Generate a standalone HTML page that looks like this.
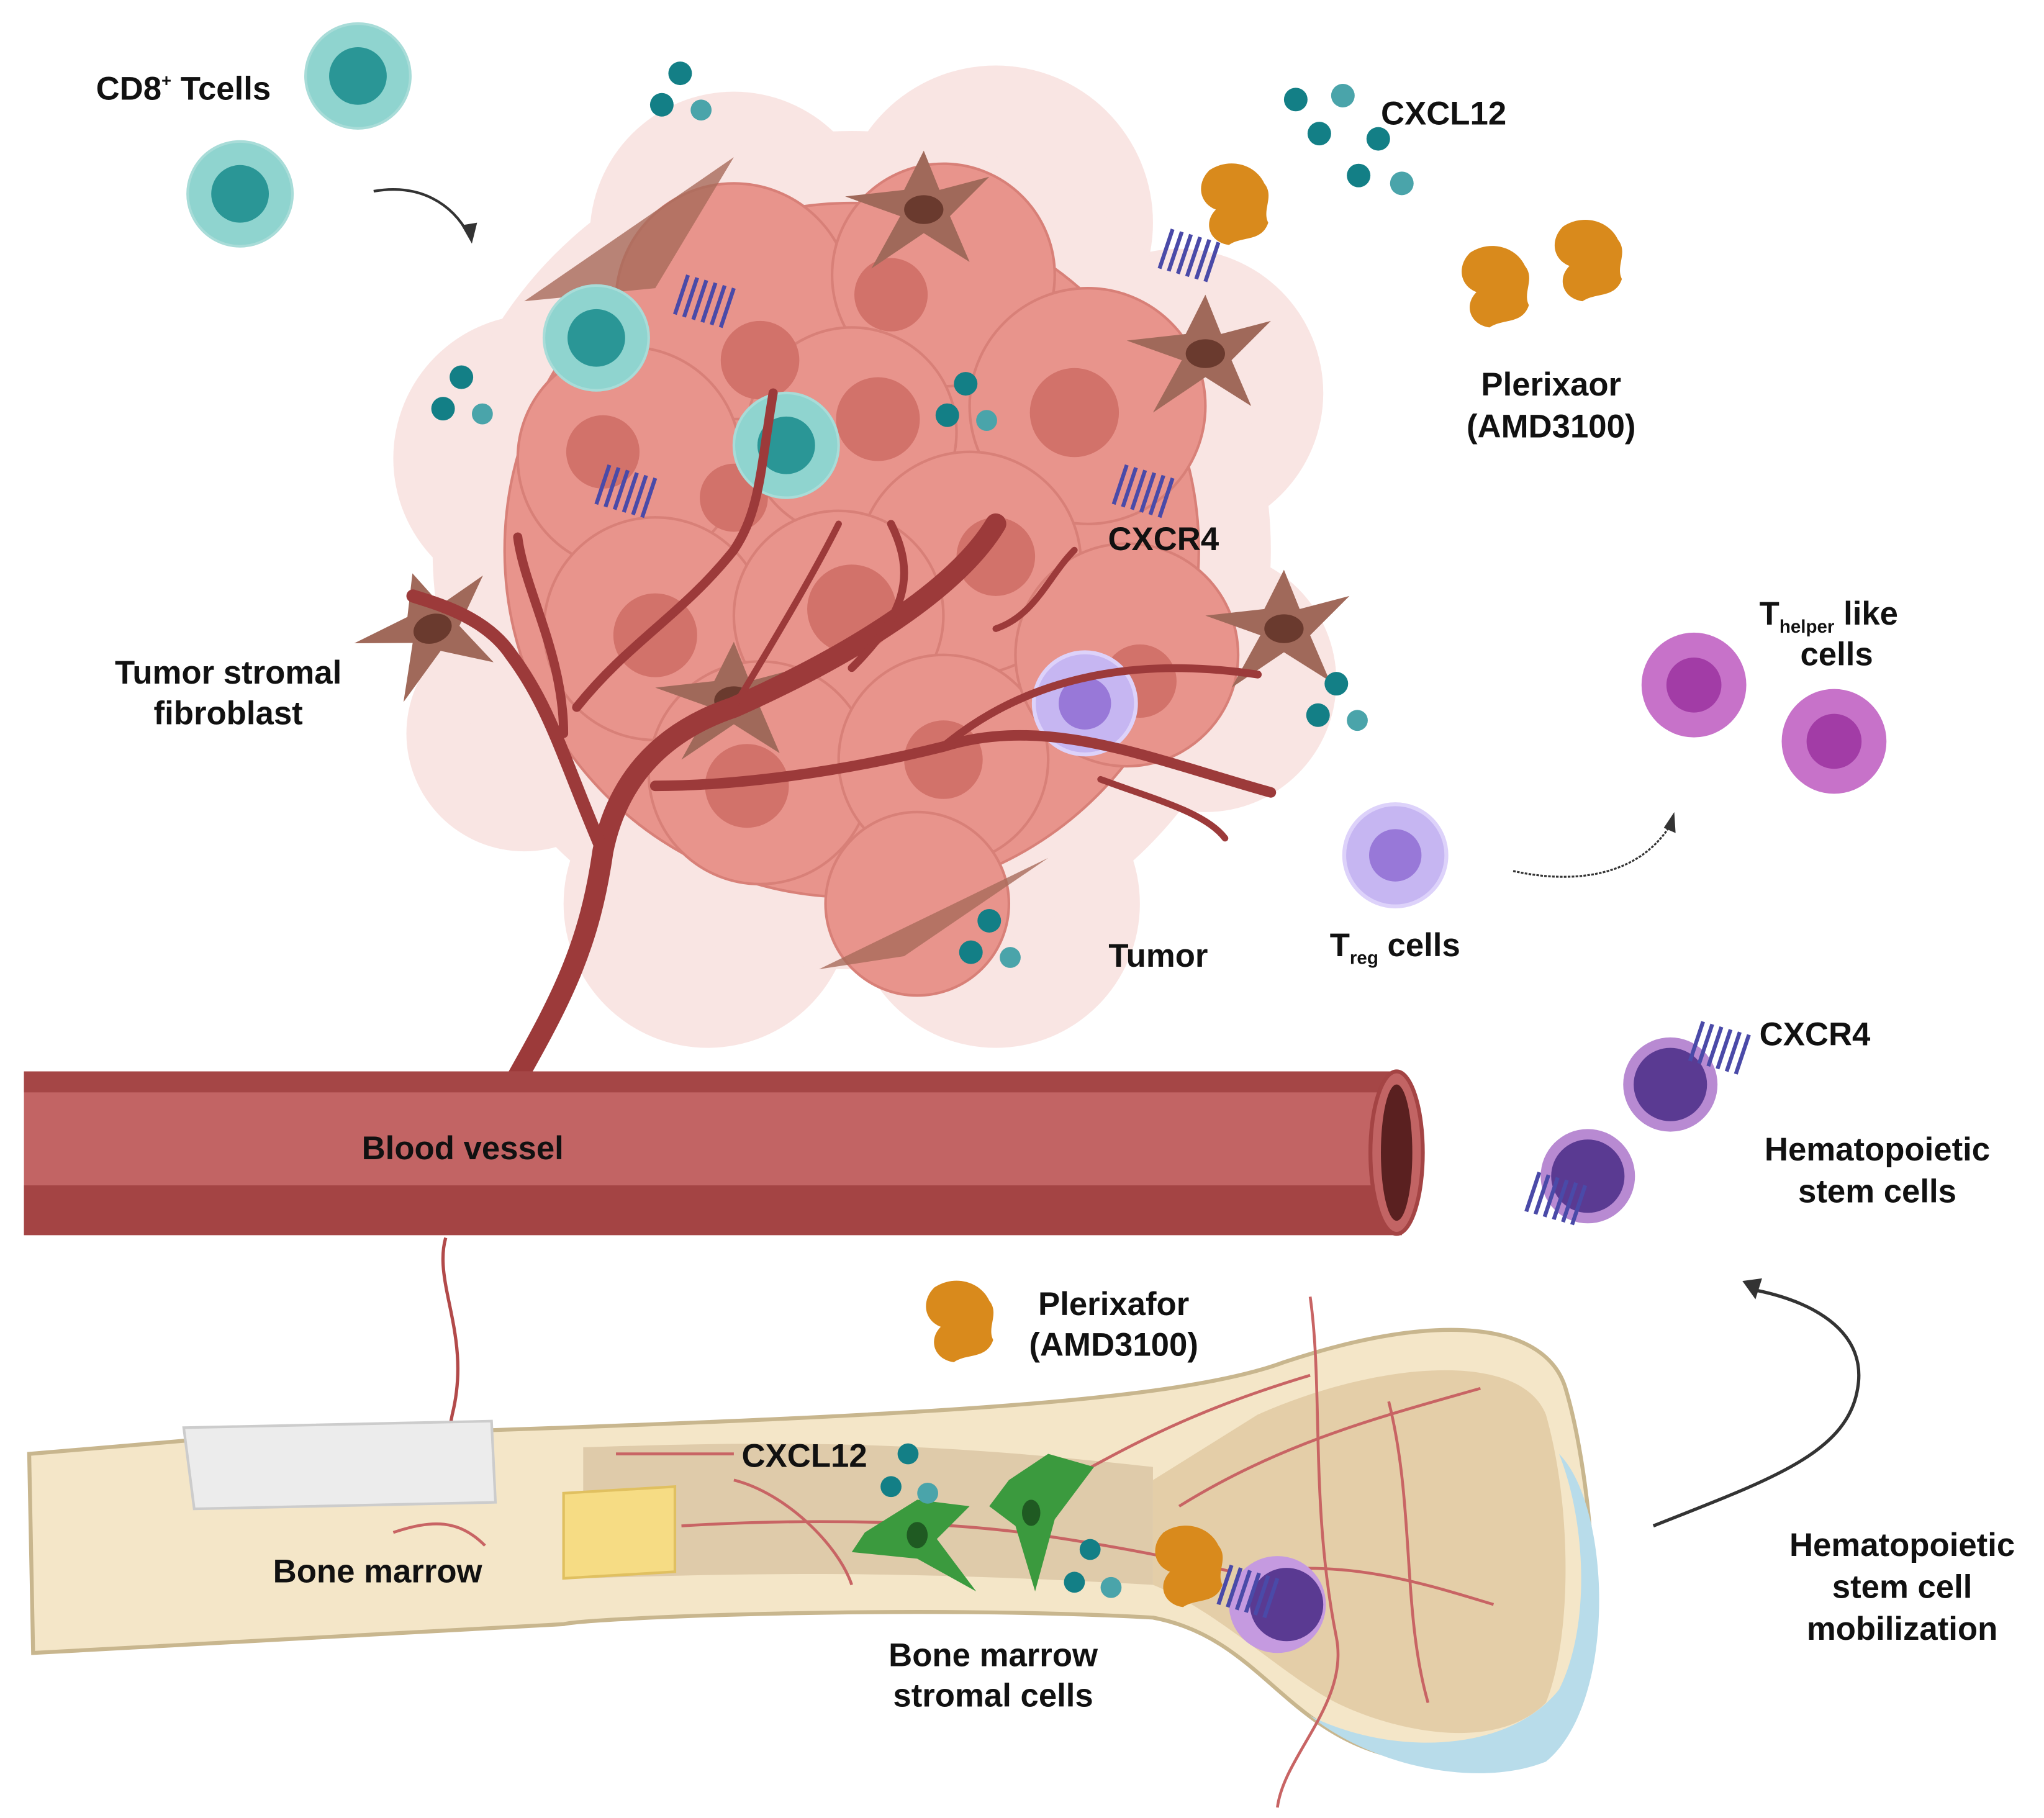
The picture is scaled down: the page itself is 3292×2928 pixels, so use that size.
<!DOCTYPE html>
<html><head><meta charset="utf-8"><style>
html,body{margin:0;padding:0;background:#fff;}
svg{display:block;}
text{font-family:"Liberation Sans",sans-serif;font-weight:bold;fill:#111;}
</style></head><body>
<svg width="3292" height="2928" viewBox="0 0 1560 1388" xmlns="http://www.w3.org/2000/svg">
<defs>
<g id="tcell"><circle r="40" fill="#8fd4cf" stroke="#a8dcd8" stroke-width="2"/><circle r="22" fill="#2a9696"/></g>
<g id="thelp"><circle r="40" fill="#c772c9"/><circle r="21" fill="#a23ca6"/></g>
<g id="treg"><circle r="39" fill="#c6b6f2" stroke="#ddd2fa" stroke-width="3"/><circle r="20" fill="#9878d8"/></g>
<g id="hsc"><circle r="36" fill="#b88ad2"/><circle r="28" fill="#5a3a92"/></g>
<g id="dots"><circle cx="0" cy="0" r="9" fill="#137f86"/><circle cx="-14" cy="24" r="9" fill="#137f86"/><circle cx="16" cy="28" r="8" fill="#4aa4aa"/></g>
<g id="plx"><path d="M-20,-25 C-5,-35 15,-30 22,-15 C30,-5 20,5 25,15 C20,30 5,25 -5,32 C-20,30 -25,15 -15,5 C-28,0 -30,-15 -20,-25Z" fill="#d98a1c"/></g>
<g id="rec" stroke="#4a4aa8" stroke-width="3" fill="none"><path d="M0,0 l10,-30 M7,2 l10,-30 M14,4 l10,-30 M21,6 l10,-30 M28,8 l10,-30 M35,10 l10,-30"/></g>
<g id="fib"><path d="M0,-45 L12,-15 L50,-25 L20,5 L35,40 L0,18 L-40,45 L-18,5 L-60,-10 L-15,-15Z" fill="#a0695a"/><ellipse cx="0" cy="0" rx="15" ry="11" fill="#6a3a2e"/></g>
</defs>

<!-- Tumor -->
<g opacity="0.45" fill="#f2c6c2">
<circle cx="560" cy="180" r="110"/><circle cx="760" cy="170" r="120"/><circle cx="900" cy="300" r="110"/>
<circle cx="410" cy="350" r="110"/><circle cx="400" cy="560" r="90"/><circle cx="540" cy="690" r="110"/>
<circle cx="760" cy="690" r="110"/><circle cx="920" cy="520" r="100"/><circle cx="650" cy="420" r="320"/>
</g>
<g fill="#e8948c" stroke="#d88078" stroke-width="2">
<circle cx="650" cy="420" r="265"/>
<circle cx="560" cy="230" r="90"/><circle cx="720" cy="210" r="85"/><circle cx="830" cy="310" r="90"/>
<circle cx="480" cy="350" r="85"/><circle cx="650" cy="330" r="80"/><circle cx="740" cy="430" r="85"/>
<circle cx="500" cy="480" r="85"/><circle cx="640" cy="470" r="80"/><circle cx="580" cy="590" r="85"/>
<circle cx="720" cy="580" r="80"/><circle cx="860" cy="500" r="85"/><circle cx="700" cy="690" r="70"/>
</g>
<g fill="#d2726a">
<circle cx="580" cy="275" r="30"/><circle cx="680" cy="225" r="28"/><circle cx="820" cy="315" r="34"/>
<circle cx="460" cy="345" r="28"/><circle cx="670" cy="320" r="32"/><circle cx="760" cy="425" r="30"/>
<circle cx="500" cy="485" r="32"/><circle cx="650" cy="465" r="34"/><circle cx="570" cy="600" r="32"/>
<circle cx="720" cy="580" r="30"/><circle cx="870" cy="520" r="28"/><circle cx="560" cy="380" r="26"/>
</g>
<use href="#fib" x="705" y="160"/><use href="#fib" x="560" y="535"/><use href="#fib" x="330" y="480" transform="rotate(-20 330 480)"/>
<use href="#fib" x="920" y="270"/><use href="#fib" x="980" y="480"/>
<path d="M400,230 L560,120 L500,220Z" fill="#a86a5a" opacity="0.8"/>
<path d="M625,740 L800,655 L690,730Z" fill="#a86a5a" opacity="0.8"/>
<use href="#tcell" x="455" y="258"/><use href="#tcell" x="600" y="340"/>
<use href="#treg" x="828" y="537"/>
<use href="#rec" x="515" y="240"/><use href="#rec" x="455" y="385"/><use href="#rec" x="850" y="385"/><use href="#rec" x="885" y="205"/>
<!-- vessel tree -->
<g fill="none" stroke="#9c3a3a" stroke-linecap="round">
<path d="M395,822 C430,760 450,720 460,650 C470,600 500,560 560,540 C650,500 730,450 760,400" stroke-width="16"/>
<path d="M460,650 C430,580 420,540 390,500 C370,470 330,460 315,455" stroke-width="10"/>
<path d="M430,560 C430,500 400,450 395,410" stroke-width="7"/>
<path d="M440,540 C480,490 520,470 560,420 C580,390 580,360 590,300" stroke-width="7"/>
<path d="M500,600 C560,600 640,590 720,570 C800,545 880,580 970,605" stroke-width="8"/>
<path d="M720,570 C780,520 860,500 960,515" stroke-width="6"/>
<path d="M650,510 C690,470 700,440 680,400" stroke-width="6"/>
<path d="M760,480 C790,470 800,440 820,420" stroke-width="5"/>
<path d="M840,595 C880,610 920,620 935,640" stroke-width="5"/>
<path d="M560,540 C590,490 620,440 640,400" stroke-width="5"/>
</g>
<use href="#dots" x="519" y="56"/><use href="#dots" x="352" y="288"/><use href="#dots" x="737" y="293"/>
<use href="#dots" x="1020" y="522"/><use href="#dots" x="755" y="703"/>
<!-- top left -->
<use href="#tcell" x="273" y="58"/><use href="#tcell" x="183" y="148"/>
<text x="73" y="76" font-size="25">CD8<tspan font-size="13" dy="-10">+</tspan><tspan dy="10"> Tcells</tspan></text>
<path d="M285,146 C320,140 345,155 358,180" fill="none" stroke="#333" stroke-width="2"/>
<path d="M352,172 L360,186 L364,170Z" fill="#333"/>
<!-- CXCL12 top right -->
<circle cx="989" cy="76" r="9" fill="#137f86"/><circle cx="1025" cy="73" r="9" fill="#4aa4aa"/><circle cx="1007" cy="102" r="9" fill="#137f86"/>
<circle cx="1052" cy="106" r="9" fill="#137f86"/><circle cx="1037" cy="134" r="9" fill="#137f86"/><circle cx="1070" cy="140" r="9" fill="#4aa4aa"/>
<text x="1054" y="95" font-size="25">CXCL12</text>
<use href="#plx" x="943" y="155"/><use href="#plx" x="1142" y="218"/><use href="#plx" x="1213" y="198"/>
<text x="1184" y="302" font-size="25" text-anchor="middle">Plerixaor</text>
<text x="1184" y="334" font-size="25" text-anchor="middle">(AMD3100)</text>
<text x="888" y="420" font-size="25" text-anchor="middle">CXCR4</text>
<text x="174" y="522" font-size="25" text-anchor="middle">Tumor stromal</text>
<text x="174" y="553" font-size="25" text-anchor="middle">fibroblast</text>
<text x="884" y="738" font-size="25" text-anchor="middle">Tumor</text>
<use href="#treg" x="1065" y="653"/>
<text x="1015" y="730" font-size="25">T<tspan font-size="14" dy="6">reg</tspan><tspan dy="-6"> cells</tspan></text>
<use href="#thelp" x="1293" y="523"/><use href="#thelp" x="1400" y="566"/>
<text x="1343" y="477" font-size="25">T<tspan font-size="14" dy="6">helper</tspan><tspan dy="-6"> like</tspan></text>
<text x="1402" y="508" font-size="25" text-anchor="middle">cells</text>
<path d="M1155,665 C1200,675 1250,670 1275,630" fill="none" stroke="#333" stroke-width="1.5" stroke-dasharray="2 1"/>
<path d="M1270,632 L1278,620 L1279,636Z" fill="#333"/>
<!-- HSC -->
<use href="#hsc" x="1275" y="828"/><use href="#hsc" x="1212" y="898"/>
<use href="#rec" x="1290" y="810"/><use href="#rec" x="1165" y="925"/>
<text x="1343" y="798" font-size="25">CXCR4</text>
<text x="1433" y="886" font-size="25" text-anchor="middle">Hematopoietic</text>
<text x="1433" y="918" font-size="25" text-anchor="middle">stem cells</text>
<!-- Blood vessel -->
<rect x="18" y="818" width="1052" height="125" fill="#c26464"/>
<rect x="18" y="818" width="1052" height="16" fill="#a54646"/>
<rect x="18" y="905" width="1052" height="38" fill="#a44444"/>
<ellipse cx="1066" cy="880" rx="20" ry="62" fill="#c26464" stroke="#a44444" stroke-width="3"/>
<ellipse cx="1066" cy="880" rx="12" ry="52" fill="#5a2020"/>
<text x="353" y="885" font-size="25" text-anchor="middle">Blood vessel</text>
<!-- Bone -->
<path d="M340,945 C330,980 360,1020 345,1080 C335,1130 345,1160 360,1180" fill="none" stroke="#b24a4a" stroke-width="2.5"/>
<path d="M22,1110 L140,1100 L430,1090 C700,1080 900,1070 980,1040 C1100,1000 1180,1010 1195,1060 C1210,1110 1220,1200 1215,1260 C1200,1340 1120,1350 1060,1340 C980,1320 960,1250 880,1235 C700,1225 450,1235 430,1240 L25,1262Z" fill="#f4e6c8" stroke="#c8b68e" stroke-width="3"/>
<path d="M1190,1110 C1230,1150 1235,1300 1180,1345 C1130,1365 1050,1350 1000,1310 C1060,1340 1150,1340 1190,1290 C1215,1240 1210,1160 1190,1110Z" fill="#b8dcea"/>
<path d="M960,1080 C1050,1040 1160,1030 1180,1080 C1200,1150 1200,1250 1180,1300 C1140,1340 1060,1320 1020,1300 C980,1280 930,1230 880,1210 L880,1130Z" fill="#e0c8a0" opacity="0.8"/>
<path d="M140,1090 L375,1085 L378,1147 L148,1152Z" fill="#ececec" stroke="#cccccc" stroke-width="2"/>
<path d="M445,1105 C600,1100 700,1100 880,1120 L880,1210 C700,1200 600,1200 445,1205Z" fill="#d9c4a2" opacity="0.8"/>
<path d="M430,1140 L515,1135 L515,1200 L430,1205Z" fill="#f6dc84" stroke="#e0c060" stroke-width="2"/>
<g fill="none" stroke="#c86464" stroke-width="2.2">
<path d="M520,1165 C600,1160 700,1160 780,1170 C850,1180 900,1190 940,1200"/>
<path d="M470,1110 C520,1110 540,1110 560,1110"/>
<path d="M780,1150 C850,1110 900,1080 1000,1050"/>
<path d="M1000,990 C1010,1060 1000,1150 1020,1250 C1030,1300 980,1340 975,1380"/>
<path d="M900,1150 C980,1100 1060,1080 1130,1060"/>
<path d="M960,1200 C1030,1190 1090,1210 1140,1225"/>
<path d="M1060,1070 C1080,1150 1070,1230 1090,1300"/>
<path d="M560,1130 C600,1140 640,1180 650,1210"/>
<path d="M300,1170 C330,1160 350,1160 370,1180"/>
</g>
<path d="M660,1170 L700,1145 L740,1150 L715,1175 L745,1215 L700,1190 L650,1185Z" fill="#3b9a3e"/>
<ellipse cx="700" cy="1172" rx="8" ry="10" fill="#1f5a22"/>
<path d="M770,1130 L800,1110 L835,1120 L805,1160 L790,1215 L775,1165 L755,1150Z" fill="#3b9a3e"/>
<ellipse cx="787" cy="1155" rx="7" ry="10" fill="#1f5a22"/>
<use href="#plx" x="908" y="1195"/>
<circle cx="975" cy="1225" r="37" fill="#c59ae0"/><circle cx="982" cy="1225" r="28" fill="#5a3a92"/>
<use href="#rec" x="930" y="1225"/>
<circle cx="693" cy="1110" r="8" fill="#137f86"/><circle cx="680" cy="1135" r="8" fill="#137f86"/><circle cx="708" cy="1140" r="8" fill="#4aa4aa"/>
<circle cx="832" cy="1183" r="8" fill="#137f86"/><circle cx="820" cy="1208" r="8" fill="#137f86"/><circle cx="848" cy="1212" r="8" fill="#4aa4aa"/>
<text x="566" y="1120" font-size="25">CXCL12</text>
<text x="288" y="1208" font-size="25" text-anchor="middle">Bone marrow</text>
<text x="758" y="1272" font-size="25" text-anchor="middle">Bone marrow</text>
<text x="758" y="1303" font-size="25" text-anchor="middle">stromal cells</text>
<use href="#plx" x="733" y="1008"/>
<text x="850" y="1004" font-size="25" text-anchor="middle">Plerixafor</text>
<text x="850" y="1035" font-size="25" text-anchor="middle">(AMD3100)</text>
<path d="M1262,1165 C1350,1130 1410,1110 1418,1060 C1425,1020 1390,995 1340,985" fill="none" stroke="#333" stroke-width="2.5"/>
<path d="M1330,978 L1345,976 L1340,992Z" fill="#333"/>
<text x="1452" y="1188" font-size="25" text-anchor="middle">Hematopoietic</text>
<text x="1452" y="1220" font-size="25" text-anchor="middle">stem cell</text>
<text x="1452" y="1252" font-size="25" text-anchor="middle">mobilization</text>
</svg>
</body></html>
